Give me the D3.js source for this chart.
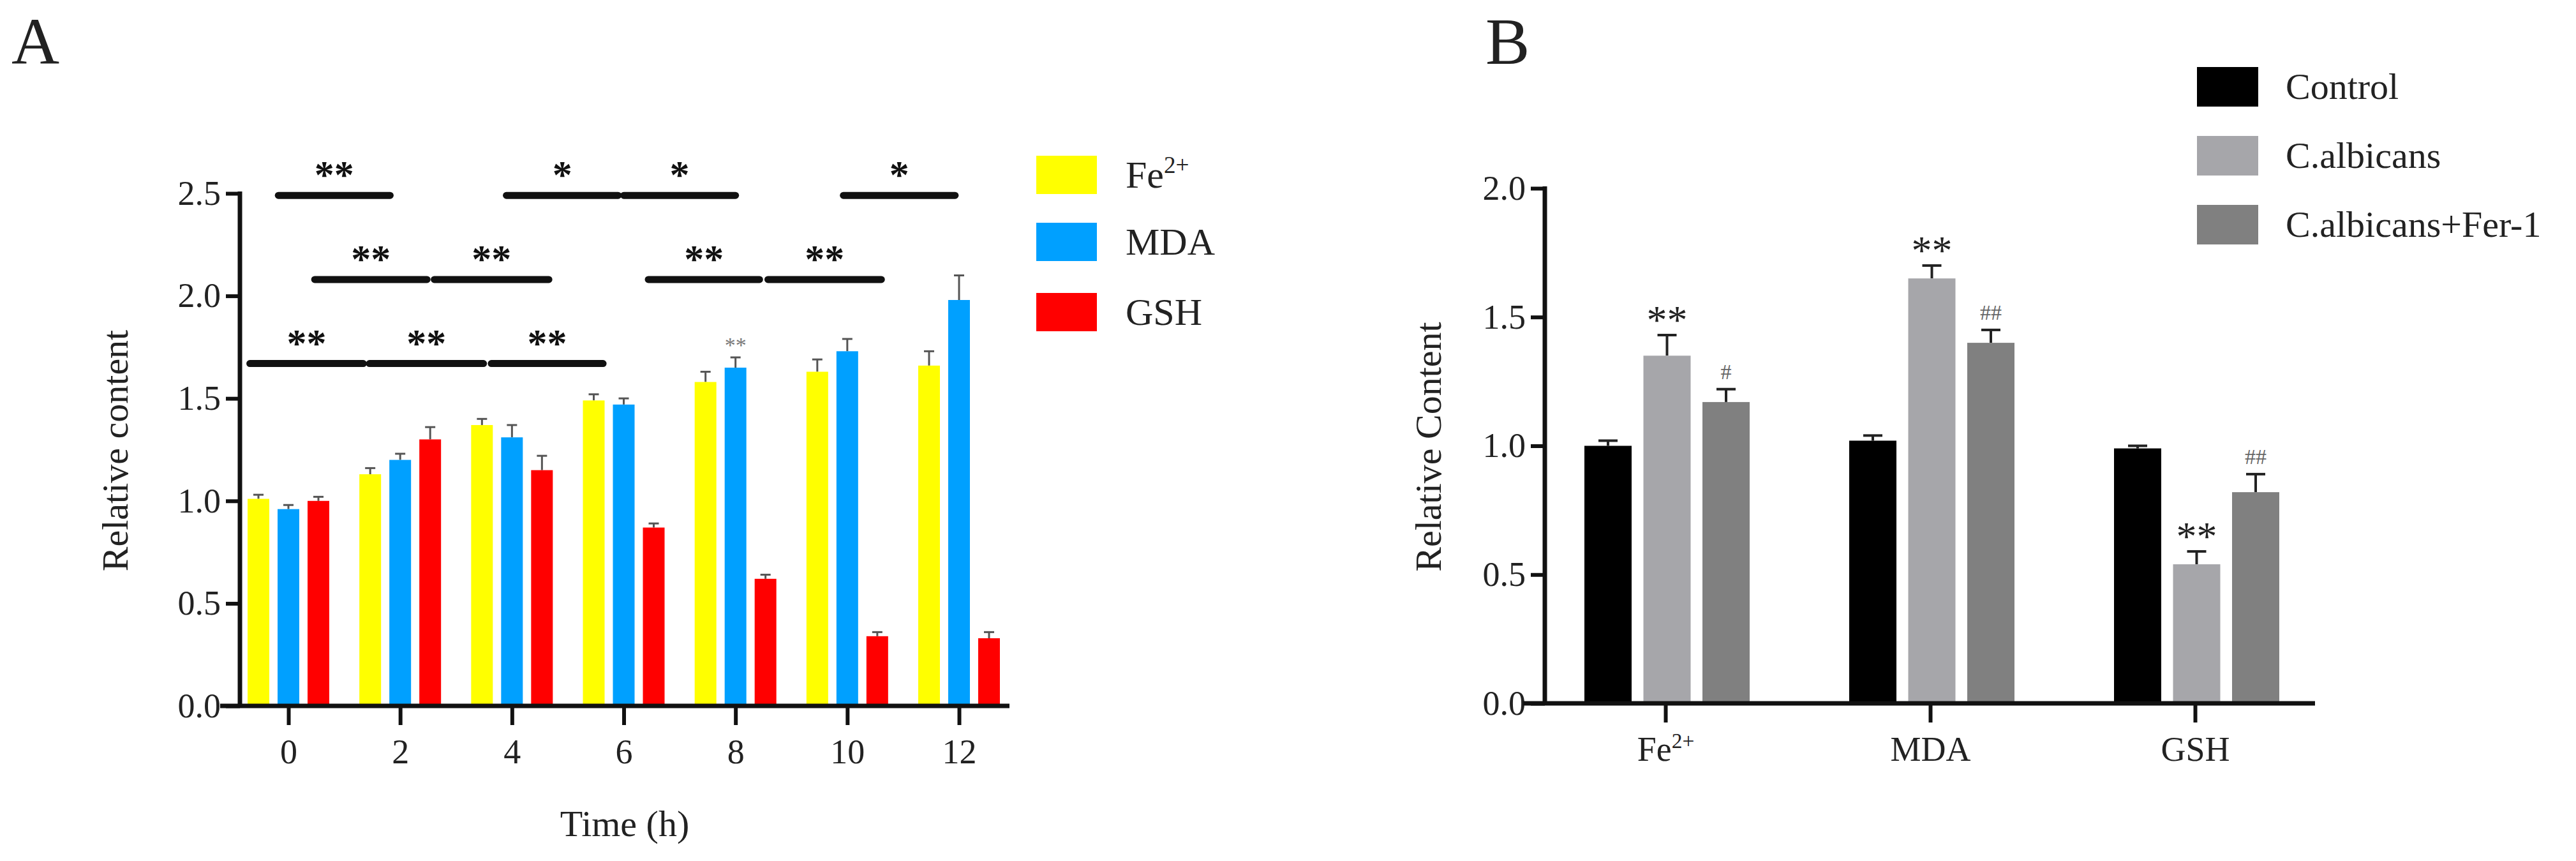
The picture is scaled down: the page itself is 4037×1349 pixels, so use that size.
<!doctype html>
<html>
<head>
<meta charset="utf-8">
<script src="https://cdn.jsdelivr.net/npm/d3@7"></script>
<style>
  body { margin: 0; background: #fff; }
  text { font-family: "Liberation Serif", "DejaVu Serif", serif; fill: #222; }
</style>
</head>
<body>
<svg id="chart" width="4037" height="1349"></svg>
<script>
// ---- panel A data ----
var hours = [0, 2, 4, 6, 8, 10, 12];
var seriesA = ["Fe", "MDA", "GSH"];
var feVals = [1.01, 1.13, 1.37, 1.49, 1.58, 1.63, 1.66];
var feErr  = [0.02, 0.03, 0.03, 0.03, 0.05, 0.06, 0.07];
var mdaVals = [0.96, 1.20, 1.31, 1.47, 1.65, 1.73, 1.98];
var mdaErr  = [0.02, 0.03, 0.06, 0.03, 0.05, 0.06, 0.12];
var gshVals = [1.00, 1.30, 1.15, 0.87, 0.62, 0.34, 0.33];
var gshErr  = [0.02, 0.06, 0.07, 0.02, 0.02, 0.02, 0.03];
var colorsA = ["#ffff00", "#00a0ff", "#ff0000"];
var ticksA = [0, 0.5, 1.0, 1.5, 2.0, 2.5];
// significance bars: [start h, end h, y value, label]
var sigA = [
  [-0.18, 1.82, 2.49, "**"], [3.9, 5.9, 2.49, "*"], [6.0, 8.0, 2.49, "*"], [9.93, 11.93, 2.49, "*"],
  [0.47, 2.48, 2.08, "**"], [2.61, 4.66, 2.08, "**"], [6.44, 8.43, 2.08, "**"], [8.58, 10.61, 2.08, "**"],
  [-0.69, 1.34, 1.67, "**"], [1.45, 3.49, 1.67, "**"], [3.63, 5.63, 1.67, "**"]
];

// ---- panel B data ----
var markers = ["Fe", "MDA", "GSH"];
var groupsB = ["Control", "C.albicans", "C.albicans+Fer-1"];
var ctrlVals = [1.00, 1.02, 0.99];
var ctrlErr  = [0.02, 0.02, 0.01];
var albVals  = [1.35, 1.65, 0.54];
var albErr   = [0.08, 0.05, 0.05];
var ferVals  = [1.17, 1.40, 0.82];
var ferErr   = [0.05, 0.05, 0.07];
var albMarks = ["**", "**", "**"];
var ferMarks = ["#", "##", "##"];
var colorsB = ["#000000", "#a6a6aa", "#808080"];
var ticksB = [0, 0.5, 1.0, 1.5, 2.0];

var svg = d3.select("#chart");

// panel labels
svg.append("text").attr("x", 18).attr("y", 100).attr("font-size", 104).text("A");
svg.append("text").attr("x", 2328).attr("y", 100).attr("font-size", 104).text("B");

function feLabel(sel, size) {
  sel.text("Fe");
  sel.append("tspan").attr("font-size", size * 0.62).attr("dy", -size * 0.38).text("2+");
}

// ================= panel A =================
(function () {
  var g = svg.append("g");
  var x = d3.scaleLinear().domain([0, 12]).range([452, 1503]);
  var y = d3.scaleLinear().domain([0, 2.5]).range([1106, 303]);
  var bw = 34, off = 47;
  var vals = [feVals, mdaVals, gshVals], errs = [feErr, mdaErr, gshErr];

  vals.forEach(function (arr, s) {
    var dx = (s - 1) * off;
    var data = hours.map(function (h, i) { return { h: h, v: arr[i], e: errs[s][i] }; });
    g.selectAll(null).data(data).enter().append("line")
      .attr("x1", function (d) { return x(d.h) + dx; }).attr("x2", function (d) { return x(d.h) + dx; })
      .attr("y1", function (d) { return y(d.v); }).attr("y2", function (d) { return y(d.v + d.e); })
      .attr("stroke", "#555").attr("stroke-width", 3);
    g.selectAll(null).data(data).enter().append("line")
      .attr("x1", function (d) { return x(d.h) + dx - 8; }).attr("x2", function (d) { return x(d.h) + dx + 8; })
      .attr("y1", function (d) { return y(d.v + d.e); }).attr("y2", function (d) { return y(d.v + d.e); })
      .attr("stroke", "#555").attr("stroke-width", 3);
    g.selectAll(null).data(data).enter().append("rect")
      .attr("x", function (d) { return x(d.h) + dx - bw / 2; })
      .attr("y", function (d) { return y(d.v); })
      .attr("width", bw).attr("height", function (d) { return y(0) - y(d.v); })
      .attr("fill", colorsA[s]);
  });

  // small ** above MDA at 8h
  g.append("text").attr("x", x(8)).attr("y", y(mdaVals[4] + mdaErr[4]) - 8)
    .attr("text-anchor", "middle").attr("font-size", 34).style("fill", "#777").text("**");

  // axes
  var ya = g.append("g").attr("transform", "translate(376,0)")
    .call(d3.axisLeft(y).tickValues(ticksA).tickFormat(d3.format(".1f")).tickSize(22).tickPadding(8));
  var xa = g.append("g").attr("transform", "translate(0,1106)")
    .call(d3.axisBottom(x).tickValues(hours).tickSize(30).tickPadding(22));
  [ya, xa].forEach(function (a) {
    a.select(".domain").remove();
    a.selectAll("line").attr("stroke", "#111").attr("stroke-width", 6);
    a.selectAll("text").attr("font-size", 54).attr("font-family", "Liberation Serif").style("fill", "#222");
  });
  g.append("line").attr("x1", 376).attr("x2", 376).attr("y1", 300).attr("y2", 1109).attr("stroke", "#111").attr("stroke-width", 7);
  g.append("line").attr("x1", 345).attr("x2", 1582).attr("y1", 1106).attr("y2", 1106).attr("stroke", "#111").attr("stroke-width", 7);

  // significance bars
  sigA.forEach(function (s) {
    g.append("line").attr("x1", x(s[0])).attr("x2", x(s[1])).attr("y1", y(s[2])).attr("y2", y(s[2]))
      .attr("stroke", "#111").attr("stroke-width", 11).attr("stroke-linecap", "round");
    g.append("text").attr("x", (x(s[0]) + x(s[1])) / 2).attr("y", y(s[2]) - 12)
      .attr("text-anchor", "middle").attr("font-size", 62).attr("font-weight", "bold").style("fill", "#111")
      .text(s[3]);
  });

  g.append("text").attr("transform", "translate(200,706) rotate(-90)").attr("text-anchor", "middle")
    .attr("font-size", 58).text("Relative content");
  g.append("text").attr("x", 979).attr("y", 1310).attr("text-anchor", "middle").attr("font-size", 58).text("Time (h)");

  // legend
  var ly = [244, 349, 459];
  seriesA.forEach(function (name, i) {
    g.append("rect").attr("x", 1624).attr("y", ly[i]).attr("width", 95).attr("height", 60).attr("fill", colorsA[i]);
    var t = g.append("text").attr("x", 1764).attr("y", ly[i] + 50).attr("font-size", 60);
    if (name === "Fe") feLabel(t, 60); else t.text(name);
  });
})();

// ================= panel B =================
(function () {
  var g = svg.append("g");
  var x0 = d3.scaleBand().domain(markers).range([2403, 3648]).padding(0);
  var x1 = d3.scaleBand().domain(groupsB).range([-146, 150]).padding(0.2);
  var y = d3.scaleLinear().domain([0, 2]).range([1102, 295]);
  var vals = [ctrlVals, albVals, ferVals], errs = [ctrlErr, albErr, ferErr];

  groupsB.forEach(function (grp, s) {
    var data = markers.map(function (m, i) { return { m: m, v: vals[s][i], e: errs[s][i], i: i }; });
    var cx = function (d) { return x0(d.m) + x0.bandwidth() / 2 + x1(grp) + x1.bandwidth() / 2; };
    g.selectAll(null).data(data).enter().append("line")
      .attr("x1", cx).attr("x2", cx)
      .attr("y1", function (d) { return y(d.v); }).attr("y2", function (d) { return y(d.v + d.e); })
      .attr("stroke", "#222").attr("stroke-width", 4);
    g.selectAll(null).data(data).enter().append("line")
      .attr("x1", function (d) { return cx(d) - 15; }).attr("x2", function (d) { return cx(d) + 15; })
      .attr("y1", function (d) { return y(d.v + d.e); }).attr("y2", function (d) { return y(d.v + d.e); })
      .attr("stroke", "#222").attr("stroke-width", 4);
    g.selectAll(null).data(data).enter().append("rect")
      .attr("x", function (d) { return cx(d) - x1.bandwidth() / 2; })
      .attr("y", function (d) { return y(d.v); })
      .attr("width", x1.bandwidth()).attr("height", function (d) { return y(0) - y(d.v); })
      .attr("fill", colorsB[s]);
    var marks = s === 1 ? albMarks : s === 2 ? ferMarks : null;
    if (marks) {
      g.selectAll(null).data(data).enter().append("text")
        .attr("x", cx).attr("y", function (d) { return y(d.v + d.e) - (s === 1 ? 2 : 16); })
        .attr("text-anchor", "middle")
        .attr("font-size", s === 1 ? 64 : 34)
        .style("fill", s === 1 ? "#222" : "#666")
        .text(function (d) { return marks[d.i]; });
    }
  });

  var ya = g.append("g").attr("transform", "translate(2421,0)")
    .call(d3.axisLeft(y).tickValues(ticksB).tickFormat(d3.format(".1f")).tickSize(22).tickPadding(8));
  var xa = g.append("g").attr("transform", "translate(0,1102)")
    .call(d3.axisBottom(x0).tickSize(30).tickPadding(22));
  [ya, xa].forEach(function (a) {
    a.select(".domain").remove();
    a.selectAll("line").attr("stroke", "#111").attr("stroke-width", 6);
    a.selectAll("text").attr("font-size", 54).attr("font-family", "Liberation Serif").style("fill", "#222");
  });
  xa.selectAll(".tick text").filter(function (d) { return d === "Fe"; }).each(function () {
    var t = d3.select(this); t.text(null); feLabel(t, 54);
  });
  g.append("line").attr("x1", 2421).attr("x2", 2421).attr("y1", 292).attr("y2", 1105).attr("stroke", "#111").attr("stroke-width", 7);
  g.append("line").attr("x1", 2387).attr("x2", 3628).attr("y1", 1102).attr("y2", 1102).attr("stroke", "#111").attr("stroke-width", 7);

  g.append("text").attr("transform", "translate(2258,700) rotate(-90)").attr("text-anchor", "middle")
    .attr("font-size", 58).text("Relative Content");

  var ly = [105, 213, 321];
  groupsB.forEach(function (name, i) {
    g.append("rect").attr("x", 3443).attr("y", ly[i]).attr("width", 96).attr("height", 62).attr("fill", colorsB[i]);
    g.append("text").attr("x", 3582).attr("y", ly[i] + 50).attr("font-size", 58).text(name);
  });
})();
</script>
</body>
</html>
